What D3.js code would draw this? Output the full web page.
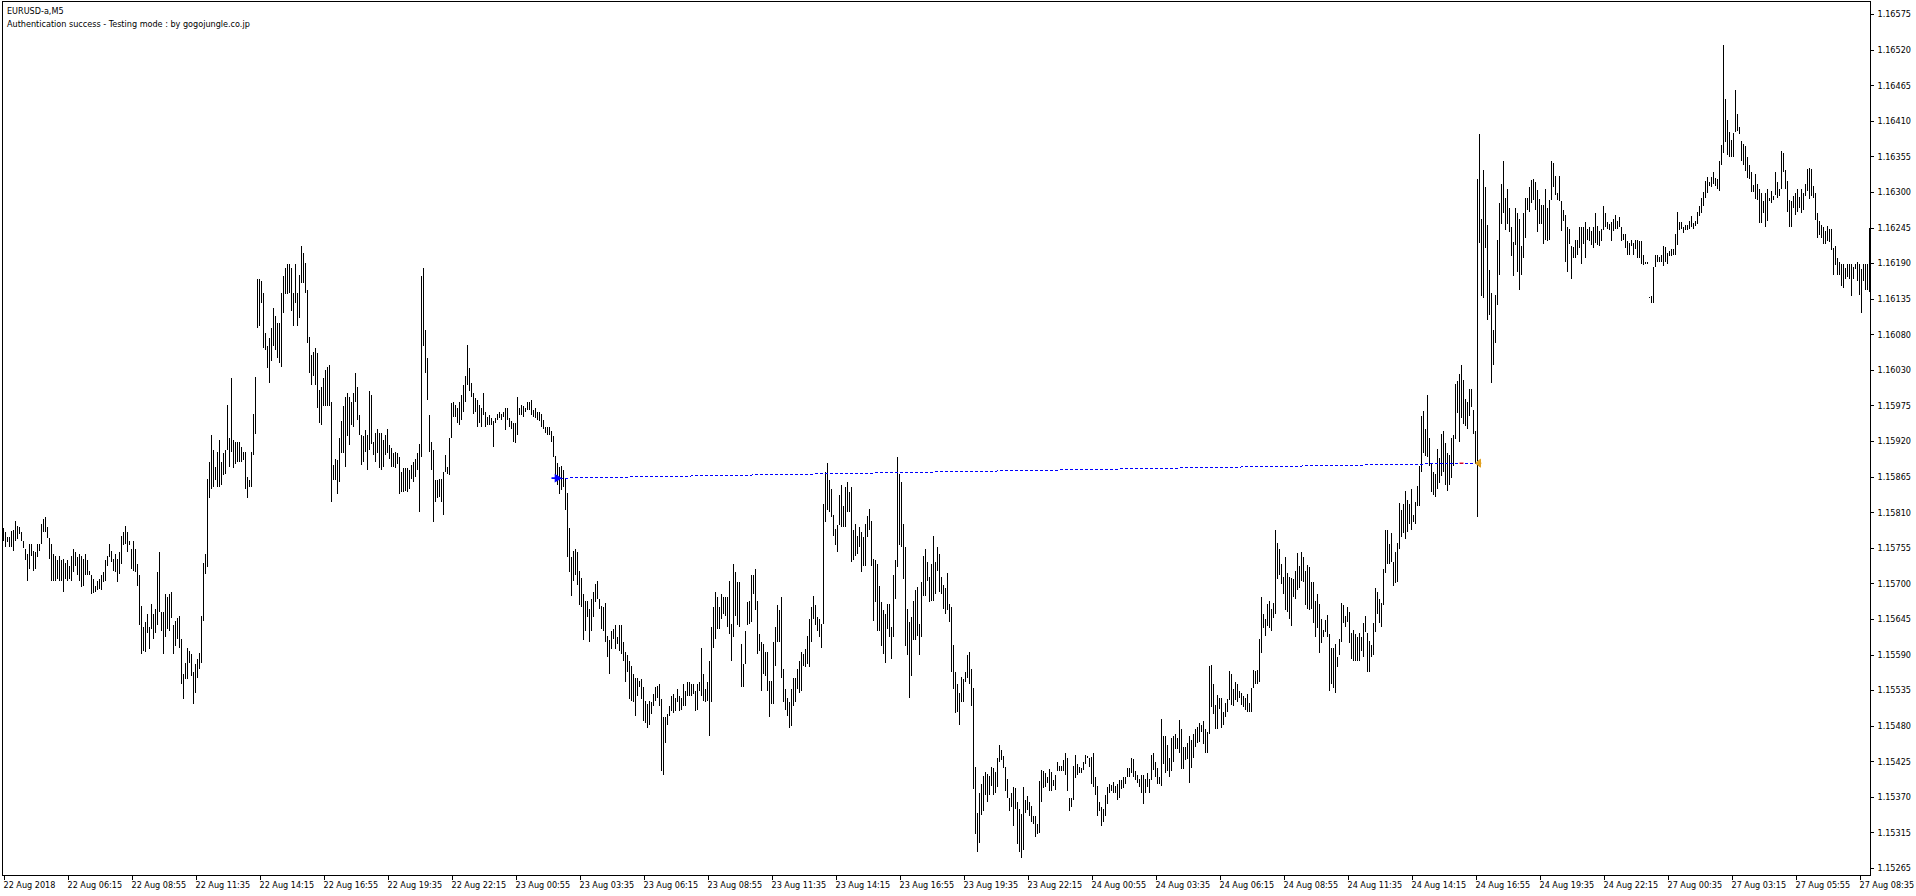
<!DOCTYPE html>
<html>
<head>
<meta charset="utf-8">
<script src="https://cdn.jsdelivr.net/npm/d3@7"></script>
<style>
  html, body { margin: 0; padding: 0; background: #fff; overflow: hidden; }
  svg { display: block; }
  text { font-family: "DejaVu Sans Condensed", "Liberation Sans Narrow", "DejaVu Sans", sans-serif; font-size: 9px; fill: #000; }
</style>
</head>
<body>
<div id="chart"></div>
<script>
const width = 1916, height = 896;

// prices are in points (0.00001) above 1.15000, one entry per M5 bar
const BASE = 1.15, PT = 0.00001;

const hiA = [786,781,773,773,782,784,798,790,788,780,767,755,747,762,762,751,750,762,762,792,
801,803,788,771,762,747,743,737,743,737,739,733,737,729,744,755,750,742,747,744,
739,747,737,721,714,708,698,706,708,714,719,737,744,762,752,739,747,739,750,775,
780,790,780,766,755,766,755,732,714,667,634,642,655,634,670,655,662,719,750,657,
657,685,680,685,689,637,644,649,652,616,562,580,603,598,593,565,578,585,595,652,
733,747,862,888,929,906,880,903,921,888,901,906,975,924,1016,921,919,919,919,911,
903,903,865,860,903,962,1018,1168,1168,1165,1147,1086,1065,1078,1093,1124,1111,1101,1101,1147,
1173,1186,1191,1191,1186,1147,1191,1147,1175,1219,1209,1193,1152,1080,1052,1057,1062,1055,998,1003,
1016,1029,1034,1037,980,883,893,891,924,950,973,988,993,988,980,993,1024,1003,960,929,
927,937,929,996,991,919,932,939,932,932,921,929,939,914,909,901,903,901,896,873,
878,878,878,875,883,888,893,901,916,1173,1186,1091,1047,960,919,906,860,860,862,862,
873,898,880,924,978,980,975,970,980,991,1006,1019,1068,1032];
const loA = [766,757,765,757,757,752,767,770,778,767,756,737,706,724,744,720,724,742,752,762,
780,780,771,739,706,706,706,708,706,706,688,708,706,708,706,719,729,714,706,696,
698,714,714,714,685,687,688,691,693,691,703,706,729,742,734,721,719,703,716,732,
760,762,750,760,724,721,719,697,637,593,598,596,626,601,632,616,626,637,657,629,
593,619,632,629,649,593,606,616,603,547,525,555,555,580,560,516,534,557,570,580,
644,716,726,832,847,850,860,850,850,852,868,870,906,880,903,878,885,888,888,888,
891,847,832,850,850,898,931,1093,1096,1132,1062,1060,1032,1009,1042,1065,1060,1047,1039,1034,
1116,1145,1145,1147,1119,1096,1132,1096,1109,1162,1162,1147,1070,1024,1006,1019,1006,970,947,944,
973,973,973,973,826,860,860,839,857,901,901,880,927,914,944,942,980,952,929,883,
888,903,875,906,916,898,888,901,878,875,880,898,901,893,880,880,878,885,839,842,
842,844,842,847,862,857,865,875,811,896,1065,1024,983,903,875,796,826,832,834,826,
806,873,870,868,924,957,957,947,944,952,965,980,1006,996];

const hiB = [1009,993,986,983,975,970,993,965,957,960,955,950,955,962,964,962,965,970,971,956,
950,947,947,987,970,975,973,970,980,980,983,968,971,965,965,962,952,942,942,942,
935,927,897,886,880,882,875,862,840,787,742,752,755,750,720,710,685,674,675,662,
678,688,701,706,678,667,665,672,621,614,629,632,637,620,637,637,611,596,591,583,
575,562,556,557,552,555,542,521,516,521,520,532,542,544,547,524,496,496,501,514,
529,532,526,539,529,526,547,537,550,550,547,547,537,547,550,603,562,539,550,583,
634,665,688,680,665,686,680,680,680,706,639,732,719,703,703,609,578,629,673,675,
714,714,724,675,624,611,609,596,596,552,552,611,634,668,660,680,570,539,526,519,
539,556,557,570,583,596,593,601,621,647,665,683,668,650,647,639,824,873,886,860,
847,806,785,791,837,852,821,850,857,842,850,783,792,775,788,780,773,793,805,816,
797,739,737,732,697,673,660,655,670,670,634,714,737,896,870,857,792,757,662,642,
650,675,691,696,639,703,744,755,734,711,732,775,734,757,747];
const loB = [988,962,965,942,947,942,960,942,945,945,945,911,947,952,955,952,957,937,952,942,
939,919,917,929,960,960,957,965,968,968,960,957,955,952,950,942,939,932,929,929,
919,896,868,852,839,845,850,814,742,719,683,706,714,699,668,665,614,629,650,611,
629,650,673,678,662,632,629,611,588,562,601,616,601,608,598,593,583,550,565,524,
521,519,498,529,542,524,491,488,480,485,501,514,521,526,514,414,408,457,485,498,
506,503,506,519,506,508,514,514,529,529,529,532,506,508,537,529,521,519,521,467,
519,603,616,632,632,647,655,652,634,624,583,619,652,637,634,542,542,578,637,639,
642,685,660,593,598,537,562,560,537,496,516,516,575,611,611,557,519,508,498,480,
483,514,519,539,534,537,575,573,578,573,611,647,637,629,619,603,639,796,814,811,
803,775,760,750,791,788,788,788,811,811,734,737,744,747,757,719,729,729,773,783,
729,644,673,629,629,606,593,580,632,619,585,619,678,727,760,757,709,606,591,526,
560,614,614,621,591,619,683,683,706,673,675,675,686,721,688];

const hiC = [711,699,694,717,670,666,607,565,547,533,558,555,565,592,596,570,541,420,349,380,
394,406,413,409,406,420,419,413,433,453,446,437,420,401,373,380,390,387,366,356,
348,390,370,375,367,360,344,344,332,398,416,414,410,405,417,412,400,408,427,421,
421,431,442,433,373,372,421,439,425,420,418,427,439,437,433,436,441,405,391,366,
358,355,377,389,394,393,397,391,394,400,400,405,405,418,419,433,432,414,408,402,
408,408,402,411,402,439,442,427,419,405,494,467,467,453,433,464,467,470,464,492,
478,450,450,457,467,461,470,478,481,487,484,490,478,474,575,576,547,515,530,526,
526,505,518,524,567,562,540,550,548,537,534,529,526,532,518,541,569,567,568,616,
681,655,647,670,674,663,672,784,764,755,731,711,742,717,711,710,708,720,748,728,
750,742,720,730,726,704,704,675,686,670,647,630,645,653,624,602,603,608,588,616,
672,669,652,666,658,625,630,624,619,625,619,641,651,625,613,607,641,694,689,677,
672,723,784,784,762,779,735,749,764,825];
const loC = [686,663,654,661,643,565,540,502,504,484,519,519,551,557,548,513,386,317,290,303,
346,353,377,367,377,391,377,380,389,428,431,418,383,373,352,358,330,356,302,290,
281,293,350,354,345,335,332,312,317,318,367,387,389,395,383,383,391,385,414,414,
414,414,407,383,352,358,369,403,407,410,411,415,425,433,420,394,389,377,344,352,
330,335,344,363,380,383,380,380,370,372,386,387,394,405,405,411,405,400,395,389,
380,363,380,389,380,400,415,405,394,394,391,425,411,414,405,414,427,447,447,442,
417,417,431,432,395,419,433,451,456,459,473,455,441,442,471,512,501,478,478,509,
479,485,496,504,522,515,513,523,520,526,515,512,507,505,505,505,541,548,548,551,
595,633,621,636,633,629,649,655,708,714,700,686,661,658,647,636,680,677,692,694,
706,703,669,663,661,663,641,619,633,595,610,620,627,619,537,547,541,533,574,592,
612,641,635,642,610,585,583,582,582,583,598,588,627,565,565,589,592,627,655,641,
634,669,717,731,732,734,698,702,703,754];

const hiD = [814,823,844,830,823,847,807,826,851,882,959,966,939,991,925,887,872,869,908,894,
931,935,917,901,899,925,929,1008,1012,1023,1037,1014,985,980,999,1000,967,936,1322,1391,
1261,1336,1310,1252,1183,1147,1091,1144,1229,1285,1314,1350,1293,1307,1277,1248,1226,1277,1270,1261,
1219,1269,1292,1293,1309,1321,1322,1317,1305,1291,1282,1282,1306,1277,1290,1350,1346,1326,1301,1326,
1288,1274,1266,1248,1245,1219,1217,1229,1229,1248,1248,1248,1256,1245,1248,1242,1248,1270,1250,1242,
1245,1281,1270,1256,1253,1256,1261,1266,1258,1264,1248,1238,1238,1227,1224,1229,1224,1229,1229,1227,
1227,1205,1194,1194,1141,1142,1187,1205,1205,1203,1205,1219,1217,1208,1212,1215,1215,1237,1272,1256,
1256,1249,1252,1252,1258,1265,1254,1258,1272,1281,1293,1302,1319,1325,1318,1325,1333,1323,1322,1350,
1374,1528,1445,1413,1394,1381,1392,1458,1422,1402,1380,1376,1372,1356,1344,1333,1312,1330,1314,1306,
1301,1288,1300,1307,1293,1303,1296,1333,1318,1306,1365,1362,1335,1319,1289,1288,1296,1301,1306,1294,
1306,1301,1314,1338,1339,1338,1311,1301,1269,1258,1252,1248,1242,1250,1245,1245,1216,1219,1200,1195,
1192,1191,1185,1192,1192,1192,1187,1192,1195,1192,1184,1192,1192,1192,1247];
const loD = [773,779,770,781,793,784,795,793,821,820,872,901,897,895,882,842,837,834,846,856,
866,872,853,844,853,863,882,923,963,919,956,946,943,938,959,972,930,885,803,1224,
1142,1139,1216,1105,1113,1009,1036,1070,1129,1175,1253,1269,1243,1253,1240,1204,1173,1220,1180,1152,
1174,1200,1232,1274,1272,1285,1290,1274,1241,1253,1253,1222,1229,1227,1229,1290,1309,1298,1290,1288,
1242,1258,1195,1180,1222,1168,1200,1200,1205,1216,1191,1222,1200,1229,1227,1221,1216,1224,1221,1219,
1227,1244,1249,1245,1244,1227,1242,1245,1245,1248,1227,1229,1216,1205,1205,1219,1205,1215,1200,1200,
1192,1190,1192,1192,1139,1131,1131,1187,1195,1195,1195,1188,1195,1192,1204,1204,1205,1206,1221,1244,
1245,1239,1243,1244,1245,1248,1245,1250,1253,1265,1269,1280,1293,1301,1311,1309,1314,1311,1306,1303,
1343,1362,1378,1358,1356,1356,1356,1394,1396,1391,1350,1343,1334,1323,1322,1302,1302,1291,1290,1254,
1254,1269,1249,1258,1288,1285,1290,1298,1293,1296,1306,1333,1306,1272,1248,1249,1277,1266,1272,1277,
1269,1274,1296,1303,1291,1296,1293,1259,1231,1236,1232,1222,1222,1227,1226,1213,1175,1190,1174,1174,
1158,1155,1168,1171,1168,1142,1168,1184,1166,1144,1116,1166,1152,1152,1148];

// price axis labels, top to bottom (as printed by the terminal)
const priceLabels = ["1.16575","1.16520","1.16465","1.16410","1.16355","1.16300","1.16245","1.16190",
  "1.16135","1.16080","1.16030","1.15975","1.15920","1.15865","1.15810","1.15755","1.15700","1.15645",
  "1.15590","1.15535","1.15480","1.15425","1.15370","1.15315","1.15265"];

// time labels, one every 32 bars
const timeLabels = ["22 Aug 2018","22 Aug 06:15","22 Aug 08:55","22 Aug 11:35","22 Aug 14:15","22 Aug 16:55",
  "22 Aug 19:35","22 Aug 22:15","23 Aug 00:55","23 Aug 03:35","23 Aug 06:15","23 Aug 08:55","23 Aug 11:35",
  "23 Aug 14:15","23 Aug 16:55","23 Aug 19:35","23 Aug 22:15","24 Aug 00:55","24 Aug 03:35","24 Aug 06:15",
  "24 Aug 08:55","24 Aug 11:35","24 Aug 14:15","24 Aug 16:55","24 Aug 19:35","24 Aug 22:15","27 Aug 00:35",
  "27 Aug 03:15","27 Aug 05:55","27 Aug 08:35"];

// tester trade: open arrow and close mark
const trade = { openBar: 278, openPrice: 1.15863, closeBar: 737, closePrice: 1.15886 };

const headerLines = ["EURUSD-a,M5", "Authentication success - Testing mode : by gogojungle.co.jp"];

// ---------------------------------------------------------------
const highs = [...hiA, ...hiB, ...hiC, ...hiD];
const lows = [...loA, ...loB, ...loC, ...loD];
const bars = highs.map((h, i) => ({ i, high: BASE + h * PT, low: BASE + lows[i] * PT }));

const plot = { left: 2, top: 1, right: 1870, bottom: 875 };
const labelStep = 32;

const svg = d3.select("#chart")
  .append("svg")
  .attr("width", width)
  .attr("height", height)
  .attr("viewBox", `0 0 ${width} ${height}`);

const xScale = d3.scaleLinear()
  .domain([0, bars.length - 1])
  .range([3.5, 3.5 + 2 * (bars.length - 1)]);

const yTop = +priceLabels[0], yBottom = +priceLabels[priceLabels.length - 1];
const yScale = d3.scaleLinear().domain([yBottom, yTop]).range([868, 14]);

// frame
svg.append("rect")
  .attr("x", plot.left + 0.5).attr("y", plot.top + 0.5)
  .attr("width", plot.right - plot.left).attr("height", plot.bottom - plot.top)
  .attr("fill", "none").attr("stroke", "#000").attr("shape-rendering", "crispEdges");

// price axis: evenly spaced ticks, printed labels
const priceTicks = priceLabels.map((t, i) => yTop - i * (yTop - yBottom) / (priceLabels.length - 1));
const yAxis = svg.append("g")
  .attr("transform", `translate(${plot.right + 0.5},0)`)
  .call(d3.axisRight(yScale)
    .tickValues(priceTicks)
    .tickSize(3)
    .tickPadding(4)
    .tickFormat((d, i) => priceLabels[i]));
yAxis.select(".domain").remove();
yAxis.selectAll("line").attr("stroke", "#000").attr("shape-rendering", "crispEdges");
yAxis.selectAll("text").attr("font-family", null).attr("font-size", null).attr("fill", "#000");

// time axis
const timeTicks = timeLabels.map((t, i) => i * labelStep);
const xAxis = svg.append("g")
  .attr("transform", `translate(0,${plot.bottom + 0.5})`)
  .call(d3.axisBottom(xScale)
    .tickValues(timeTicks)
    .tickSize(4)
    .tickPadding(2)
    .tickFormat((d, i) => timeLabels[i]));
xAxis.select(".domain").remove();
xAxis.selectAll("line").attr("stroke", "#000").attr("shape-rendering", "crispEdges");
xAxis.selectAll("text")
  .attr("font-family", null).attr("font-size", null).attr("fill", "#000")
  .attr("text-anchor", "start").attr("x", -0.5).attr("dy", "0.75em");

// bars: high-low lines
svg.append("g").attr("class", "bars")
  .selectAll("line").data(bars).join("line")
    .attr("x1", d => xScale(d.i))
    .attr("x2", d => xScale(d.i))
    .attr("y1", d => yScale(d.high))
    .attr("y2", d => Math.max(yScale(d.low), yScale(d.high) + 1))
    .attr("stroke", "#000")
    .attr("stroke-width", 1)
    .attr("shape-rendering", "crispEdges");

// trade line, open arrow, close mark
const xo = xScale(trade.openBar), yo = yScale(trade.openPrice);
const xc = xScale(trade.closeBar), yc = yScale(trade.closePrice);

svg.append("line")
  .attr("x1", xo + 1).attr("y1", yo)
  .attr("x2", xc - 2).attr("y2", yc)
  .attr("stroke", "#0000ff")
  .attr("stroke-dasharray", "3,2")
  .attr("shape-rendering", "crispEdges");

svg.append("line")
  .attr("x1", xScale(trade.closeBar - 9)).attr("y1", yc)
  .attr("x2", xScale(trade.closeBar - 7)).attr("y2", yc)
  .attr("stroke", "#ff0000")
  .attr("stroke-width", 1.2);

svg.append("path")
  .attr("d", `M${xo - 8},${yo} L${xo - 3},${yo} M${xo - 4},${yo - 3} L${xo + 1},${yo} L${xo - 4},${yo + 3} Z`)
  .attr("stroke", "#0000ff")
  .attr("stroke-width", 1.6)
  .attr("fill", "#0000ff");

svg.append("path")
  .attr("d", `M${xc + 3},${yc - 4} L${xc - 2},${yc} L${xc + 3},${yc + 4} Z M${xc + 2},${yc} L${xc + 4},${yc}`)
  .attr("fill", "#e0a020")
  .attr("stroke", "#e0a020")
  .attr("stroke-width", 1);

// header
svg.append("g").selectAll("text").data(headerLines).join("text")
  .attr("x", 7)
  .attr("y", (d, i) => 14 + i * 13)
  .text(d => d);
</script>
</body>
</html>
